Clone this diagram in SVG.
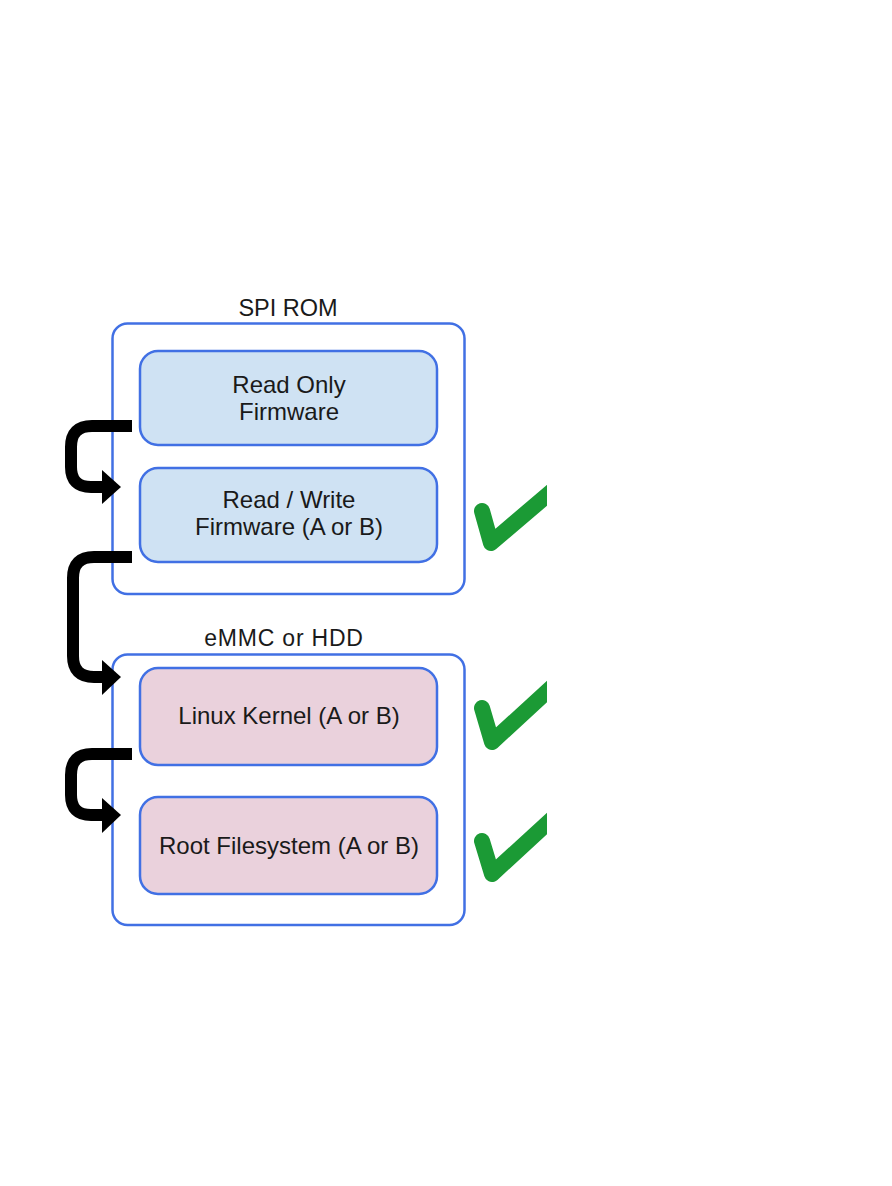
<svg xmlns="http://www.w3.org/2000/svg" width="892" height="1186" viewBox="0 0 892 1186">
<defs>
<style>
.outer{fill:#ffffff;stroke:#4170e4;stroke-width:2.5}
.blue{fill:#cfe2f3;stroke:#4170e4;stroke-width:2.5}
.pink{fill:#ead1dc;stroke:#4170e4;stroke-width:2.5}
.t{font-family:"Liberation Sans",Arial,sans-serif;font-size:24px;fill:#1a1a1a;text-anchor:middle}
.conn{fill:none;stroke:#000;stroke-width:12}
.head{fill:#000}
.check{fill:none;stroke:#1b9a35;stroke-width:16;stroke-linecap:round;stroke-linejoin:round}
</style>
<clipPath id="clipR"><rect x="0" y="0" width="547" height="1186"/></clipPath>
</defs>
<rect width="892" height="1186" fill="#ffffff"/>
<g id="spi-rom">
<rect class="outer" x="112.5" y="323.5" width="352" height="270.5" rx="15"/>
<text class="t" x="288" y="316" style="font-size:23.5px">SPI ROM</text>
</g>
<g id="emmc-hdd">
<rect class="outer" x="112.5" y="654.5" width="352" height="270.5" rx="15"/>
<text class="t" x="284" y="646" style="font-size:23px;letter-spacing:0.8px">eMMC or HDD</text>
</g>
<g id="ro-firmware">
<rect class="blue" x="140" y="351" width="297" height="94" rx="18"/>
<text class="t" x="289" y="393">Read Only</text>
<text class="t" x="289" y="420">Firmware</text>
</g>
<g id="rw-firmware">
<rect class="blue" x="140" y="468" width="297" height="94" rx="18"/>
<text class="t" x="289" y="508">Read / Write</text>
<text class="t" x="289" y="535">Firmware (A or B)</text>
</g>
<g id="kernel">
<rect class="pink" x="140" y="668" width="297" height="97" rx="18"/>
<text class="t" x="289" y="724">Linux Kernel (A or B)</text>
</g>
<g id="rootfs">
<rect class="pink" x="140" y="797" width="297" height="97" rx="18"/>
<text class="t" x="289" y="854">Root Filesystem (A or B)</text>
</g>
<g id="connectors">
<path class="conn" d="M132,426 H92 Q71,426 71,447 V467 Q71,487 91,487 H106"/>
<polygon class="head" points="102,470 121,487 102,504"/>
<path class="conn" d="M132,557 H94 Q73,557 73,578 V656 Q73,677 94,677 H106"/>
<polygon class="head" points="102,660 121,677 102,695"/>
<path class="conn" d="M132,754 H92 Q71,754 71,775 V795 Q71,815 91,815 H106"/>
<polygon class="head" points="102,798 121,815 102,833"/>
</g>
<g id="checks" clip-path="url(#clipR)">
<path class="check" d="M482,511 L491,543 L552,491"/>
<path class="check" d="M482,708 L492,742 L553,686"/>
<path class="check" d="M482,841 L492,874 L553,818"/>
</g>
</svg>
